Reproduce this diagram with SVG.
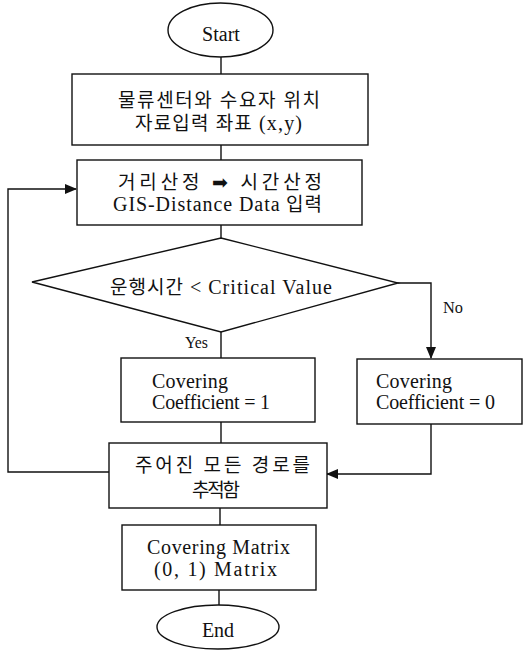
<svg xmlns="http://www.w3.org/2000/svg" width="524" height="650" viewBox="0 0 524 650">
<style>
.s{fill:#fff;stroke:#111;stroke-width:1.4}
.c{fill:none;stroke:#111;stroke-width:1.4}
.t{font-family:"Liberation Serif","Noto Sans CJK KR",serif;font-size:20px;fill:#111}
.k{font-family:"Liberation Serif","Noto Sans CJK KR",serif;font-size:19px;fill:#111}
.e{font-size:20px}
.l{font-family:"Liberation Serif",serif;font-size:16px;fill:#111}
.m{text-anchor:middle}
</style>
<defs>
<marker id="a" markerWidth="12" markerHeight="10" refX="11" refY="5" orient="auto" markerUnits="userSpaceOnUse">
<path d="M0,0 L12,5 L0,10 Z" fill="#111"/>
</marker>
</defs>
<rect width="524" height="650" fill="#fff"/>
<g id="connectors">
<line class="c" x1="221" y1="57" x2="221" y2="74"/>
<line class="c" x1="221" y1="145" x2="221" y2="160"/>
<line class="c" x1="221" y1="225" x2="221" y2="238"/>
<line class="c" x1="221" y1="332" x2="221" y2="358"/>
<path class="c" d="M398,283 H431 V358" marker-end="url(#a)"/>
<line class="c" x1="221" y1="422" x2="221" y2="443"/>
<path class="c" d="M431,424 V474 H327" marker-end="url(#a)"/>
<path class="c" d="M109,472 H8 V189 H76" marker-end="url(#a)"/>
<line class="c" x1="220" y1="508" x2="220" y2="525"/>
<line class="c" x1="219" y1="590" x2="219" y2="605"/>
<text class="l" x="185" y="348" textLength="23" lengthAdjust="spacingAndGlyphs">Yes</text>
<text class="l" x="443" y="313" textLength="20" lengthAdjust="spacingAndGlyphs">No</text>
</g>
<g id="start">
<ellipse class="s" cx="220.5" cy="30" rx="52.5" ry="27"/>
<text class="t m" x="221" y="41" font-size="21">Start</text>
</g>
<g id="input">
<rect class="s" x="72" y="74" width="296" height="71"/>
<text class="k" x="118" y="107" textLength="202" lengthAdjust="spacing">물류센터와 수요자 위치</text>
<text class="k" x="135" y="130" textLength="167" lengthAdjust="spacing">자료입력 좌표 <tspan class="e">(x,y)</tspan></text>
</g>
<g id="distance">
<rect class="s" x="77" y="160" width="285" height="65"/>
<text class="k" x="118" y="189" textLength="204" lengthAdjust="spacing">거리산정 <tspan font-family="DejaVu Sans">➡</tspan> 시간산정</text>
<text class="k" x="113" y="211" textLength="209" lengthAdjust="spacing"><tspan class="e">GIS-Distance Data</tspan> 입력</text>
</g>
<g id="decision">
<polygon class="s" points="221,238 398,283 221,332 32,282"/>
<text class="k" x="110" y="294" textLength="222" lengthAdjust="spacing">운행시간 <tspan class="e">&lt; Critical Value</tspan></text>
</g>
<g id="cov1">
<rect class="s" x="121" y="358" width="194" height="64"/>
<text class="t" x="152" y="388" textLength="76" lengthAdjust="spacing">Covering</text>
<text class="t" x="152" y="409" textLength="118" lengthAdjust="spacing">Coefficient = 1</text>
</g>
<g id="cov0">
<rect class="s" x="357" y="359" width="165" height="65"/>
<text class="t" x="376" y="388" textLength="76" lengthAdjust="spacing">Covering</text>
<text class="t" x="376" y="409" textLength="119" lengthAdjust="spacing">Coefficient = 0</text>
</g>
<g id="trace">
<rect class="s" x="109" y="443" width="218" height="65"/>
<text class="k" x="135" y="472" textLength="175" lengthAdjust="spacing">주어진 모든 경로를</text>
<text class="k" x="192" y="497" textLength="48" lengthAdjust="spacing">추적함</text>
</g>
<g id="matrix">
<rect class="s" x="122" y="525" width="194" height="65"/>
<text class="t" x="147" y="554" textLength="143" lengthAdjust="spacing">Covering Matrix</text>
<text class="t" x="154" y="576" textLength="123" lengthAdjust="spacing">(0, 1) Matrix</text>
</g>
<g id="end">
<ellipse class="s" cx="218" cy="627" rx="61" ry="22"/>
<text class="t m" x="218" y="637" font-size="21">End</text>
</g>
</svg>
